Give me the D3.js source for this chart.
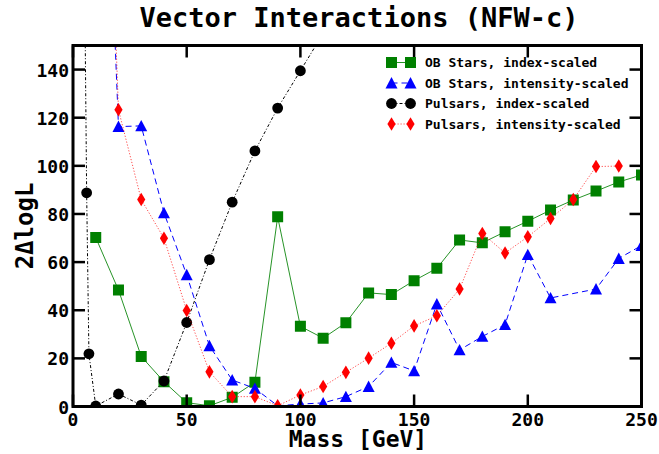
<!DOCTYPE html>
<html>
<head>
<meta charset="utf-8">
<script src="https://cdn.jsdelivr.net/npm/d3@7"></script>
<style>
  body { margin: 0; background: #fff; }
  text { font-family: "DejaVu Sans Mono", monospace; font-weight: bold; }
</style>
</head>
<body>
<svg id="chart" width="659" height="454"></svg>
<script>
// chart data
var obIndexMass = [10,20,30,40,50,60,70,80,90,100,110,120,130,140,150,160,170,180,190,200,210,220,230,240,250];
var obIndex = [70.2,48.4,20.8,10.3,1.6,0.3,3.8,10.1,78.8,33.3,28.4,34.8,47.2,46.5,52.3,57.4,69.2,68.0,72.6,77.0,81.6,85.8,89.5,93.3,96.2];

var obIntMass = [10,20,30,40,50,60,70,80,90,100,110,120,130,140,150,160,170,180,190,200,210,230,240,250];
var obInt = [350,116.3,116.6,80.5,54.7,25.2,11.0,7.5,0.3,1.0,1.5,4.1,8.3,18.3,14.8,42.6,23.5,29.1,34.0,63.1,45.1,48.8,61.5,66.9];

var psrIndexMass = [5,6,7,10,20,30,40,50,60,70,80,90,100,110];
var psrIndex = [190,88.8,21.9,0.2,5.2,0.6,10.6,34.9,61.0,84.9,106.2,124.0,139.5,155];

var psrIntMass = [10,20,30,40,50,60,70,80,90,100,110,120,130,140,150,160,170,180,190,200,210,220,230,240];
var psrInt = [380,123.3,86.0,69.9,39.9,14.4,4.1,4.1,0.3,4.8,8.3,14.2,20.1,26.3,33.5,37.7,48.8,71.9,63.8,70.5,78.1,86.0,99.7,99.9];

var xTicks = [0,50,100,150,200,250];
var yTicks = [0,20,40,60,80,100,120,140];

(function() {
  var svg = d3.select('#chart');
  var left = 73, right = 641.5, top = 45.5, bottom = 406.5;

  var x = d3.scaleLinear().domain([0, 250]).range([left, right]);
  var y = d3.scaleLinear().domain([0, 150]).range([bottom, top]);

  svg.append('clipPath').attr('id', 'clip')
    .append('rect').attr('x', left).attr('y', top)
    .attr('width', right - left).attr('height', bottom - top);

  // marker paths
  var shapes = {
    square: 'M-5.5,-5.5H5.5V5.5H-5.5Z',
    circle: 'M5.4,0A5.4,5.4 0 1,1 -5.4,0A5.4,5.4 0 1,1 5.4,0Z',
    triangle: 'M0,-6L6,5.4L-6,5.4Z',
    diamond: 'M0,-6.8L4.1,0L0,6.8L-4.1,0Z'
  };

  var series = [
    {name: 'OB Stars, index-scaled', xs: obIndexMass, ys: obIndex, color: '#008000', dash: null, opacity: 0.85, shape: 'square'},
    {name: 'OB Stars, intensity-scaled', xs: obIntMass, ys: obInt, color: '#0000ff', dash: '6,4', opacity: 1, shape: 'triangle'},
    {name: 'Pulsars, index-scaled', xs: psrIndexMass, ys: psrIndex, color: '#000000', dash: '3,2,1,2', opacity: 1, shape: 'circle'},
    {name: 'Pulsars, intensity-scaled', xs: psrIntMass, ys: psrInt, color: '#ff0000', dash: '1.2,1.8', opacity: 0.7, shape: 'diamond'}
  ];

  var plot = svg.append('g').attr('clip-path', 'url(#clip)');

  var line = d3.line().x(function(d) { return x(d[0]); }).y(function(d) { return y(d[1]); });

  series.forEach(function(s) {
    var pts = s.xs.map(function(m, i) { return [m, s.ys[i]]; });
    var g = plot.append('g');
    g.append('path')
      .datum(pts)
      .attr('d', line)
      .attr('fill', 'none')
      .attr('stroke', s.color)
      .attr('stroke-opacity', s.opacity)
      .attr('stroke-width', 1)
      .attr('stroke-dasharray', s.dash);
    g.selectAll('path.mk')
      .data(pts)
      .enter()
      .append('path')
      .attr('class', 'mk')
      .attr('d', shapes[s.shape])
      .attr('transform', function(d) { return 'translate(' + x(d[0]) + ',' + y(d[1]) + ')'; })
      .attr('fill', s.color);
  });

  // axes frame and inward ticks
  var axes = svg.append('g');
  var tickLen = 12;
  xTicks.forEach(function(t) {
    axes.append('line').attr('x1', x(t)).attr('x2', x(t)).attr('y1', bottom).attr('y2', bottom - tickLen)
      .attr('stroke', '#000').attr('stroke-width', 2.5);
    axes.append('line').attr('x1', x(t)).attr('x2', x(t)).attr('y1', top).attr('y2', top + tickLen)
      .attr('stroke', '#000').attr('stroke-width', 2.5);
  });
  yTicks.forEach(function(t) {
    axes.append('line').attr('x1', left).attr('x2', left + tickLen).attr('y1', y(t)).attr('y2', y(t))
      .attr('stroke', '#000').attr('stroke-width', 2.5);
    axes.append('line').attr('x1', right).attr('x2', right - tickLen).attr('y1', y(t)).attr('y2', y(t))
      .attr('stroke', '#000').attr('stroke-width', 2.5);
  });
  axes.append('rect').attr('x', left).attr('y', top)
    .attr('width', right - left).attr('height', bottom - top)
    .attr('fill', 'none').attr('stroke', '#000').attr('stroke-width', 3);

  // tick labels
  svg.selectAll('text.xt')
    .data(xTicks)
    .enter()
    .append('text')
    .attr('class', 'xt')
    .attr('x', function(d) { return x(d); })
    .attr('y', 426)
    .attr('text-anchor', 'middle')
    .attr('font-size', 18)
    .text(function(d) { return d; });

  svg.selectAll('text.yt')
    .data(yTicks)
    .enter()
    .append('text')
    .attr('class', 'yt')
    .attr('x', left - 4)
    .attr('y', function(d) { return y(d) + 7; })
    .attr('text-anchor', 'end')
    .attr('font-size', 18)
    .text(function(d) { return d; });

  // title and axis labels
  svg.append('text')
    .attr('x', 359).attr('y', 27)
    .attr('text-anchor', 'middle')
    .attr('font-size', 27)
    .text('Vector Interactions (NFW-c)');

  svg.append('text')
    .attr('x', 358).attr('y', 447)
    .attr('text-anchor', 'middle')
    .attr('font-size', 23)
    .text('Mass [GeV]');

  svg.append('text')
    .attr('transform', 'translate(33,' + ((top + bottom) / 2) + ') rotate(-90)')
    .attr('text-anchor', 'middle')
    .attr('font-size', 24)
    .text('2ΔlogL');

  // legend
  var legend = svg.append('g');
  series.forEach(function(s, i) {
    var ly = 62.5 + i * 20.5;
    legend.append('line')
      .attr('x1', 391.5).attr('x2', 410.5).attr('y1', ly).attr('y2', ly)
      .attr('stroke', s.color).attr('stroke-opacity', s.opacity)
      .attr('stroke-width', 1).attr('stroke-dasharray', s.dash);
    [391.5, 410.5].forEach(function(mx) {
      legend.append('path').attr('d', shapes[s.shape])
        .attr('transform', 'translate(' + mx + ',' + ly + ')')
        .attr('fill', s.color);
    });
    legend.append('text')
      .attr('x', 425).attr('y', ly + 4.5)
      .attr('font-size', 13)
      .text(s.name);
  });
})();
</script>
</body>
</html>
